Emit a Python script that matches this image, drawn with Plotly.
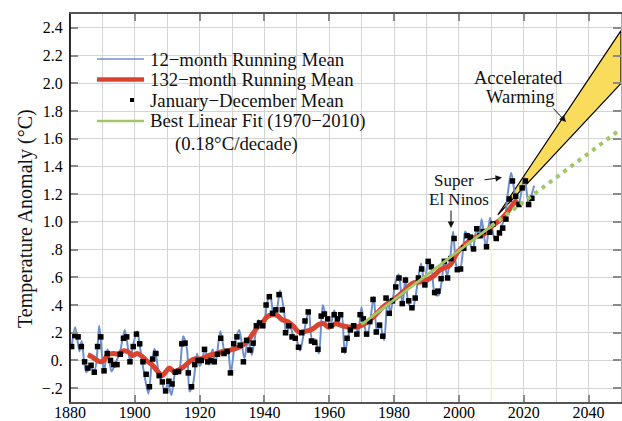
import numpy as np
import plotly.graph_objects as go

# annual means, 1880 onwards
annual_start = 1880
annual_mean = [.10, .18, .17, .10, -.01, -.055, -.035, -.085, .10, .17,
               -.075, .05, 0, -.03, -.03, .045, .16, .17, -.01, .10,
               .19, .12, -.01, -.10, -.19, .01, .05, -.11, -.155, -.22,
               -.15, -.17, -.085, -.08, .12, .125, -.09, -.19, -.03, 0,
               0, .08, -.01, 0, -.01, .045, .16, .05, .065, -.09,
               .12, .17, .11, -.01, .145, .075, .125, .25, .27, .25,
               .40, .46, .34, .365, .475, .365, .20, .25, .17, .16,
               .095, .20, .285, .35, .14, .13, .08, .32, .335, .30,
               .25, .33, .30, .33, .075, .16, .22, .25, .19, .33,
               .30, .19, .28, .44, .205, .255, .175, .45, .34, .43,
               .53, .595, .41, .58, .43, .38, .45, .595, .66, .545,
               .715, .675, .49, .50, .59, .715, .595, .735, .88, .655,
               .66, .81, .90, .89, .805, .95, .90, .93, .82, .925,
               .985, .88, .92, .955, 1.02, 1.165, 1.295, 1.185, 1.125, 1.245,
               1.295, 1.125, 1.17]

# 12-month running mean, peaks and troughs
mean12_x = [1880.5, 1881.6, 1882.9, 1883.6, 1885.0, 1886.3, 1887.6, 1889.0, 1890.0, 1890.5,
            1891.6, 1892.8, 1894.0, 1895.3, 1896.9, 1898.1, 1898.6, 1899.4, 1900.7, 1901.7,
            1902.7, 1904.2, 1905.3, 1906.1, 1907.4, 1908.5, 1909.3, 1910.2, 1911.3, 1912.5,
            1913.6, 1914.9, 1916.1, 1916.9, 1918.0, 1919.2, 1920.0, 1920.8, 1921.6, 1922.8,
            1924.0, 1924.9, 1926.4, 1927.9, 1928.7, 1929.6, 1931.0, 1932.2, 1933.8, 1934.9,
            1936.1, 1937.1, 1938.1, 1939.7, 1940.8, 1941.8, 1942.8, 1943.9, 1944.8, 1946.1,
            1946.7, 1947.8, 1948.9, 1949.9, 1951.0, 1952.3, 1953.7, 1954.7, 1955.7, 1956.8,
            1958.0, 1959.1, 1960.4, 1961.5, 1962.7, 1963.8, 1964.8, 1965.8, 1966.9, 1968.1,
            1968.9, 1969.9, 1970.7, 1971.7, 1972.6, 1973.7, 1974.7, 1975.7, 1976.9, 1978.0,
            1978.8, 1979.6, 1980.5, 1981.4, 1982.6, 1983.5, 1984.4, 1985.7, 1986.6, 1988.3,
            1989.4, 1990.5, 1991.5, 1992.6, 1993.7, 1994.8, 1995.4, 1996.4, 1997.3, 1998.2,
            1999.2, 2000.2, 2001.4, 2001.9, 2003.0, 2004.2, 2005.5, 2006.3, 2007.0, 2008.4,
            2009.6, 2011.1, 2012.1, 2013.2, 2014.3, 2014.9, 2016.1, 2017.3, 2018.4, 2020.2,
            2021.5, 2022.2, 2023.2]
mean12_y = [.10, .24, .065, .14, -.085, -.055, -.07, .25, .005, -.08,
            .08, -.08, -.02, .05, .22, .05, -.01, .10, .21, .08,
            -.07, -.24, .005, .085, -.09, -.165, -.23, -.165, -.25, -.09,
            -.08, .175, .08, -.225, -.165, .05, -.04, 0, .09, -.03,
            .08, -.02, .21, .04, .08, -.09, .14, .22, .015, .15,
            .04, .17, .29, .24, .415, .475, .33, .38, .505, .34,
            .185, .26, .175, .15, .07, .22, .36, .15, .15, .05,
            .40, .305, .26, .36, .28, .33, .05, .175, .235, .26,
            .185, .385, .27, .175, .28, .46, .20, .26, .145, .46,
            .34, .44, .57, .62, .40, .60, .415, .37, .46, .70,
            .535, .72, .68, .475, .47, .595, .73, .61, .74, .93,
            .68, .645, .825, .93, .885, .79, .955, .895, 1.02, .81,
            1.03, .87, .895, .97, 1.04, 1.17, 1.355, 1.20, 1.125, 1.32,
            1.125, 1.175, 1.26]

# 132-month running mean
mean132_x = [1885.5, 1886.5, 1887.8, 1889.2, 1890.4, 1891.6, 1893.5, 1895.0, 1896.6, 1898.1,
             1899.3, 1900.7, 1902.2, 1903.8, 1905.3, 1906.9, 1908.4, 1909.6, 1910.7, 1912.0,
             1913.5, 1915.1, 1916.6, 1918.2, 1920.2, 1921.8, 1923.3, 1925.4, 1926.4, 1929.5,
             1932.6, 1934.6, 1936.2, 1937.7, 1939.3, 1940.8, 1942.4, 1943.9, 1945.4, 1947.5,
             1949.0, 1950.6, 1952.6, 1954.7, 1956.8, 1958.3, 1959.8, 1961.9, 1964.0, 1966.5,
             1969.1, 1970.6, 1972.7, 1974.7, 1976.8, 1978.9, 1981.0, 1983.0, 1984.5, 1986.0,
             1989.1, 1992.2, 1994.3, 1997.3, 1999.4, 2001.9, 2004.5, 2007.6, 2010.2, 2012.7,
             2014.8, 2016.3, 2017.9]
mean132_y = [.04, .03, .01, -.01, 0, .04, .05, .045, .07, .06,
             .035, .05, .03, -.005, -.03, -.075, -.11, -.08, -.055, -.08,
             -.07, -.045, -.015, .01, .01, .025, .04, .045, .06, .075,
             .10, .135, .185, .235, .27, .315, .33, .325, .295, .275,
             .245, .205, .21, .225, .26, .265, .24, .265, .25, .24,
             .245, .26, .295, .34, .39, .425, .46, .50, .535, .56,
             .57, .61, .655, .69, .775, .835, .885, .91, .97, 1.015,
             1.065, 1.115, 1.16]

fit_x = [1970, 2010]
fit_y = [.26, .97]
extrap_x = [2010, 2050]
extrap_y = [.97, 1.67]

wedge_x = [2012, 2050, 2050, 2012]
wedge_y = [1.05, 2.38, 2.0, 1.05]

xticks = [1880, 1900, 1920, 1940, 1960, 1980, 2000, 2020, 2040]
yticks = [-.2, 0, .2, .4, .6, .8, 1.0, 1.2, 1.4, 1.6, 1.8, 2.0, 2.2, 2.4]
ylabels = ['\u2212.2', '0.', '.2', '.4', '.6', '.8', '1.0', '1.2', '1.4', '1.6', '1.8', '2.0', '2.2', '2.4']

SERIF = 'Liberation Serif'
GRID = '#d4d4d4'
TICK = '#8a8a8a'
BLUE = '#6c8fcf'
RED = '#d9432f'
GREEN = '#a2c769'

annual_x = np.arange(len(annual_mean)) + annual_start + 0.5


def px_x(px):
    return (px - 70) / 551


def px_y(py):
    return 1 - (py - 14) / 388


fig = go.Figure()
fig.add_trace(go.Scatter(x=[2010, 2010], y=[-.3, .97], mode='lines', line=dict(color='#fbeec0', width=1.5)))
fig.add_trace(go.Scatter(x=wedge_x, y=wedge_y, mode='lines', fill='toself', fillcolor='#fadc5c',
                         line=dict(color='black', width=1.2)))
fig.add_trace(go.Scatter(x=mean12_x, y=mean12_y, mode='lines',
                         line=dict(color=BLUE, width=2, shape='spline', smoothing=0.8)))
fig.add_trace(go.Scatter(x=mean132_x, y=mean132_y, mode='lines',
                         line=dict(color=RED, width=5, shape='spline', smoothing=1)))
fig.add_trace(go.Scatter(x=annual_x, y=annual_mean, mode='markers',
                         marker=dict(color='black', symbol='square', size=5.5)))
fig.add_trace(go.Scatter(x=fit_x, y=fit_y, mode='lines', line=dict(color=GREEN, width=2.8)))
fig.add_trace(go.Scatter(x=extrap_x, y=extrap_y, mode='lines', line=dict(color=GREEN, width=4, dash='4px,5px')))

labels = [('Accelerated', 518, 78, 18.5), ('Warming', 520, 97, 18.5), ('Super', 454, 180, 17), ('El Ninos', 459, 199, 17),
          ('12\u2212month Running Mean', 150, 59, 18.8), ('132\u2212month Running Mean', 150, 79.5, 18.8),
          ('January\u2212December Mean', 150, 101, 18.8), ('Best Linear Fit (1970\u22122010)', 150, 121, 18.8),
          ('(0.18\u00b0C/decade)', 175, 144, 18.8)]
annotations = []
for t, px, py, size in labels:
    left = px < 200
    annotations.append(dict(text=t, xref='paper', yref='paper', x=px_x(px), y=px_y(py), showarrow=False,
                            xanchor='left' if left else 'center', yanchor='middle', xshift=-2 if left else 0,
                            font=dict(family=SERIF, size=size, color='#111')))
annotations.append(dict(text='Temperature Anomaly (\u00b0C)', xref='paper', yref='paper', x=px_x(25), y=px_y(219),
                        showarrow=False, textangle=-90, xanchor='center', yanchor='middle',
                        font=dict(family=SERIF, size=20, color='#111')))
arrows = [(552, 107, 566, 122), (483, 180, 502, 177.5), (451, 209, 451, 228)]
for x0, y0, x1, y1 in arrows:
    annotations.append(dict(text='', xref='paper', yref='paper', axref='pixel', ayref='pixel',
                            x=px_x(x1), y=px_y(y1), ax=x0 - x1, ay=y0 - y1,
                            showarrow=True, arrowhead=2, arrowsize=1.3, arrowwidth=1, arrowcolor='#111'))

# legend keys drawn by hand, the row spacing is tighter than a plotly legend allows
shapes = [dict(type='line', xref='paper', yref='paper', x0=0, x1=0, y0=0, y1=1, line=dict(color='black', width=1.6))]
for py, color, w in [(59, BLUE, 1.4), (79.5, RED, 4.5), (121, GREEN, 2.6)]:
    shapes.append(dict(type='line', xref='paper', yref='paper', x0=px_x(97), x1=px_x(144), y0=px_y(py), y1=px_y(py),
                       line=dict(color=color, width=w)))
shapes.append(dict(type='rect', xref='paper', yref='paper', x0=px_x(130), x1=px_x(134), y0=px_y(102), y1=px_y(98),
                   fillcolor='black', line=dict(width=0)))

fig.update_layout(
    width=622, height=421,
    margin=dict(l=70, r=1, t=14, b=19),
    paper_bgcolor='white', plot_bgcolor='white',
    font=dict(family=SERIF, color='black'),
    showlegend=False,
    annotations=annotations,
    shapes=shapes,
    xaxis=dict(range=[1880, 2050], tickvals=xticks, ticks='inside', ticklen=7, tickwidth=1.5, automargin=False,
               tickcolor=TICK, showline=True, linecolor='#555', linewidth=1.5, mirror='ticks',
               showgrid=True, gridcolor=GRID, gridwidth=1.3, zeroline=False, ticklabelstandoff=-5,
               minor=dict(dtick=10, showgrid=True, gridcolor=GRID, gridwidth=1.3),
               tickfont=dict(family=SERIF, size=16, color='black')),
    yaxis=dict(range=[-.3, 2.5], tickvals=yticks, ticktext=ylabels, ticks='inside', ticklen=8, tickwidth=1.5, automargin=False,
               tickcolor=TICK, showline=True, linecolor='#aaa', linewidth=1, mirror='ticks',
               showgrid=True, gridcolor=GRID, gridwidth=1.3, zeroline=False, ticklabelstandoff=3,
               tickfont=dict(family=SERIF, size=16, color='black')),
)

fig.write_html("out.html", config=dict(displayModeBar=False), post_script="document.body.style.margin='0';")
